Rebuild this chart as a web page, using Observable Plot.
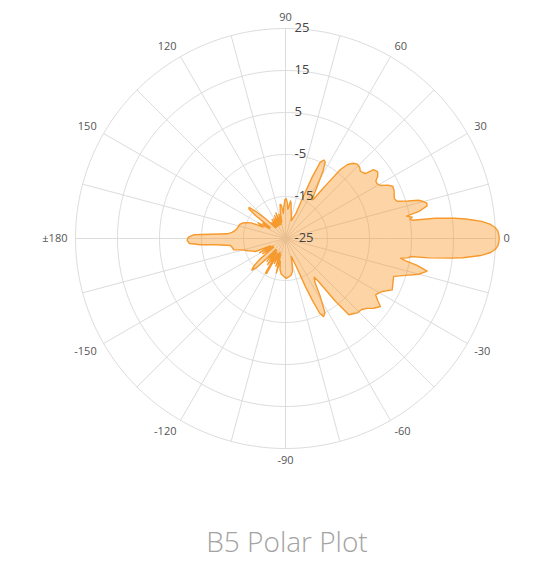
<!DOCTYPE html>
<html>
<head>
<meta charset="utf-8">
<script src="https://cdn.jsdelivr.net/npm/d3@7"></script>
<script src="https://cdn.jsdelivr.net/npm/@observablehq/plot@0.6"></script>
<style>
  html, body { margin: 0; padding: 0; background: #fff; }
  body { width: 560px; font-family: "Open Sans", sans-serif; }
  svg { display: block; }
  #title { margin-top: 22px; padding-left: 14px; text-align: center; font-family: "Open Sans", sans-serif; font-size: 28px; font-weight: 300; color: #a3a3a3; line-height: normal; }
</style>
</head>
<body>
<div id="chart"></div>
<div id="title">B5 Polar Plot</div>
<script>
// Measured antenna pattern: angle (deg) and gain (dB)
const angles = [
  -180, -178.8, -177, -175.8, -174.9, -172.7, -170.7, -167.7, -165.4, -162, -159, -156.6,
  -154, -151.5, -149, -146.5, -144, -141, -139, -137, -135, -133, -131, -129, -127, -124.5,
  -122, -120, -118.5, -116.5, -114, -111.5, -109, -107, -105, -103, -100, -97, -93, -89,
  -85, -81, -78, -75, -72, -69, -67.5, -66.5, -65.5, -64, -62, -59, -56, -53.5, -52.5,
  -51.5, -50.3, -48, -46, -43, -40.5, -38.3, -35.6, -34, -32, -30, -28.7, -25.7, -22,
  -19.3, -17, -15, -13, -11.5, -10.5, -9.7, -9, -8.2, -7.7, -6.8, -6.2, -5.5, -5, -4, -3, -2, -1, 0,
  1, 2, 3, 4, 5, 5.5, 6.2, 6.8, 7.7, 8.2, 8.8, 9.5, 10.5, 11.5, 13, 14, 15, 16, 17, 18.5, 20, 22, 24,
  26, 27.5, 29, 31, 32.5, 34, 36, 38, 39, 40.5, 42, 44, 46, 48, 50, 51.5, 52.5, 53.5,
  54.5, 55.5, 57, 59, 61, 62.5, 64, 65.5, 66.5, 67, 67.5, 69, 72, 75, 78, 81, 82.5, 84,
  85.5, 87, 89, 91, 93, 95, 97, 99, 101, 103, 105.5, 108, 110.5, 113, 115.5, 118, 120.5,
  123, 125.5, 128, 130.5, 133, 135, 137.5, 139.5, 141, 142.5, 144, 146, 148, 150.5, 153,
  155.5, 158, 160, 163, 166, 169, 171.9, 173.5, 175.4, 176.8, 177.7, 179
];
const gains = [
  -1.7, -1.6, -2.1, -4.7, -8.3, -11.8, -12.1, -12.4, -14.3, -15.6, -16.6, -17.2,
  -21, -18, -21.5, -18.5, -21.5, -17, -15, -14, -15, -18.5, -21.5, -18, -21.5, -17.5,
  -21, -15.5, -15.5, -21, -18.5, -21.5, -18, -21, -16.5, -19.5, -17.5, -16.5, -16, -15.5,
  -15.8, -16.2, -17, -19, -20.5, -18, -12.6, -9, -5.5, -4.3, -5, -9, -12.5, -13.5, -12,
  -6, -1.4, -0.9, -0.4, -0.2, 0.6, 1.8, 2.8, 1.5, 0.3, 0.8, 1.3, 3.2, 2.6,
  2.3, 5, 7.9, 9.6, 7, 4, 2.8, 4.5, 5.1, 9.4, 14.5, 17.5, 19.8, 21.6, 23.8, 25.0, 25.6, 25.8, 25.9,
  25.8, 25.6, 25.0, 23.8, 21.9, 20.2, 18.1, 15.7, 11, 5.5, 5.0, 5.6, 4.3, 7.5, 9.6, 9.7, 9.0, 8.0, 5.5, 3.0, 2.6, 2.9, 3.3,
  3.4, 2.5, 1.0, 0.4, 0.5, 1.5, 2.1, 1.6, -0.4, -0.8, -1.0, -0.5, -0.4, -0.9, -2.0, -4, -8, -11,
  -13.5, -13.8, -12.5, -10, -6.5, -4.5, -4.2, -5, -9, -14, -18.5, -19.5, -20.5, -19.5, -18.5, -16.5, -16, -17.5,
  -18, -16.5, -15.5, -15.8, -17.5, -19, -17, -16.8, -18.5, -21, -19, -21.5, -18.5, -21.5, -19, -21.5, -19.5,
  -21.5, -19.5, -21.5, -20, -21.5, -18.5, -15.5, -13.6, -13.8, -16, -20.5, -18.5, -20.5, -17.5, -19,
  -16, -15, -14.2, -13.6, -13.4, -13.2, -12.6, -12.2, -11.1, -7.1, -3.1, -2
];
const radialTicks = [-25, -15, -5, 5, 15, 25];
const gridRadii = [-15, -5, 5, 15, 25];
const spokeAngles = d3.range(0, 360, 15);
const angleTicks = [0, 30, 60, 90, 120, 150, 180, -150, -120, -90, -60, -30];
const angleTickLabels = ["0", "30", "60", "90", "120", "150", "±180", "-150", "-120", "-90", "-60", "-30"];

const rMin = -25, rMax = 25;
const span = rMax - rMin;               // arc degrees on the sphere
const lon = (a) => a + 90;              // polar angle -> longitude
const lat = (v) => 90 - (v - rMin);     // gain -> latitude
const labelArc = span * 218 / 210;

// polygon ring, ordered so the pole lies inside
const ring = angles.map((a, i) => [lon(a), lat(gains[i])]).reverse();
ring.push(ring[0]);
const pattern = {type: "Polygon", coordinates: [ring]};

const tickData = angleTicks.map((a, i) => ({a, label: angleTickLabels[i]}));
const anchorOf = (a) => {
  const c = Math.cos(a * Math.PI / 180), s = Math.sin(a * Math.PI / 180);
  return [c > 0.1 ? "start" : c < -0.1 ? "end" : "middle", s > 0.1 ? "bottom" : s < -0.1 ? "top" : "middle"];
};
const groups = d3.groups(tickData, d => anchorOf(d.a).join("|"));

const plot = Plot.plot({
  width: 560,
  height: 500,
  marginLeft: 75,
  marginRight: 65,
  marginTop: 28,
  marginBottom: 52,
  projection: {
    type: "azimuthal-equidistant",
    rotate: [0, -90],
    clip: false,
    domain: d3.geoCircle().center([0, 90]).radius(span).precision(1)()
  },
  style: {fontFamily: "'Open Sans', sans-serif", background: "#fff", overflow: "visible"},
  marks: [
    Plot.geo(gridRadii, {
      geometry: (v) => d3.geoCircle().center([0, 90]).radius(v - rMin).precision(1)(),
      stroke: "#dcdcdc",
      strokeWidth: 1,
      fill: "none"
    }),
    Plot.link(spokeAngles, {
      x1: (a) => lon(a), y1: lat(rMax), x2: (a) => lon(a), y2: 90,
      stroke: "#dcdcdc",
      strokeWidth: 1
    }),
    Plot.geo([pattern], {
      fill: "#f7941d",
      fillOpacity: 0.4,
      stroke: "#f79a2e",
      strokeWidth: 1.4,
      strokeLinejoin: "round"
    }),
    ...groups.map(([key, data]) => {
      const [textAnchor, lineAnchor] = key.split("|");
      return Plot.text(data, {
        x: (d) => lon(d.a),
        y: 90 - labelArc,
        text: "label",
        textAnchor,
        lineAnchor,
        fontSize: 11,
        fill: "#555"
      });
    }),
    Plot.text(radialTicks, {
      x: lon(90),
      y: (v) => lat(v),
      text: (v) => String(v),
      textAnchor: "start",
      dx: 9,
      dy: -1,
      fontSize: 13,
      fill: "#444"
    })
  ]
});
document.getElementById("chart").appendChild(plot);
</script>
</body>
</html>
